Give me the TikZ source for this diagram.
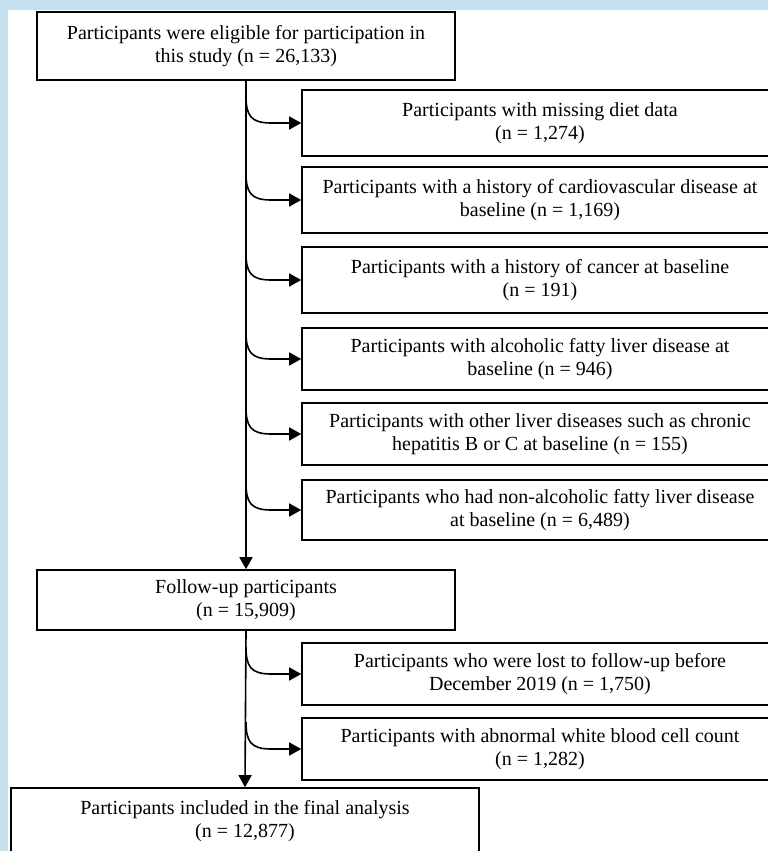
\documentclass[tikz,border=0pt]{standalone}
\usepackage{fontspec}
\setmainfont{Liberation Serif}
\usetikzlibrary{arrows.meta,calc}
\definecolor{bgblue}{RGB}{198,225,237}
\begin{document}
\begin{tikzpicture}[x=1pt,y=-1pt,
  box/.style={draw, line width=1.6pt, inner sep=0pt, align=center,
    font=\fontsize{20}{23.5}\selectfont},
  mainbox/.style={box, minimum width=418pt},
  exbox/.style={box, minimum width=476pt},
  arr/.style={line width=1.6pt, -{Triangle[length=12pt,width=13pt]}},
]
\fill[bgblue] (0,0) rectangle (768,851);
\fill[white] (8,10) rectangle (768,851);
\clip (0,0) rectangle (768,851);

\node[mainbox, minimum height=68pt] (A) at (246,46)
  {Participants were eligible for participation in\\this study (n = 26,133)};
\node[exbox, minimum height=66pt] (e1) at (540,123)
  {Participants with missing diet data\\(n = 1,274)};
\node[exbox, minimum height=66pt] (e2) at (540,200)
  {Participants with a history of cardiovascular disease at\\baseline (n = 1,169)};
\node[exbox, minimum height=66pt] (e3) at (540,280)
  {Participants with a history of cancer at baseline\\(n = 191)};
\node[exbox, minimum height=62pt] (e4) at (540,359)
  {Participants with alcoholic fatty liver disease at\\baseline (n = 946)};
\node[exbox, minimum height=62pt] (e5) at (540,434)
  {Participants with other liver diseases such as chronic\\hepatitis B or C at baseline (n = 155)};
\node[exbox, minimum height=60pt] (e6) at (540,510)
  {Participants who had non-alcoholic fatty liver disease\\at baseline (n = 6,489)};
\node[mainbox, minimum height=60pt] (B) at (246,600)
  {Follow-up participants\\(n = 15,909)};
\node[exbox, minimum height=62pt] (f1) at (540,674)
  {Participants who were lost to follow-up before\\December 2019 (n = 1,750)};
\node[exbox, minimum height=62pt] (f2) at (540,749)
  {Participants with abnormal white blood cell count\\(n = 1,282)};
\node[box, minimum width=468pt, minimum height=66pt] (D) at (245,821)
  {Participants included in the final analysis\\(n = 12,877)};

\draw[arr] (A.south) -- (B.north);
\draw[arr] (B.south) -- (D.north);

\foreach \e in {e1,e2,e3,e4,e5,e6}{
  \draw[arr] ($(A.south |- \e.west)+(0,-27)$) .. controls +(0,20) and +(-20,0) ..
    ($(\e.west)+(-30,0)$) -- (\e.west);
}
\foreach \e in {f1,f2}{
  \draw[arr] ($(B.south |- \e.west)+(0,-27)$) .. controls +(0,20) and +(-20,0) ..
    ($(\e.west)+(-30,0)$) -- (\e.west);
}
\end{tikzpicture}
\end{document}
